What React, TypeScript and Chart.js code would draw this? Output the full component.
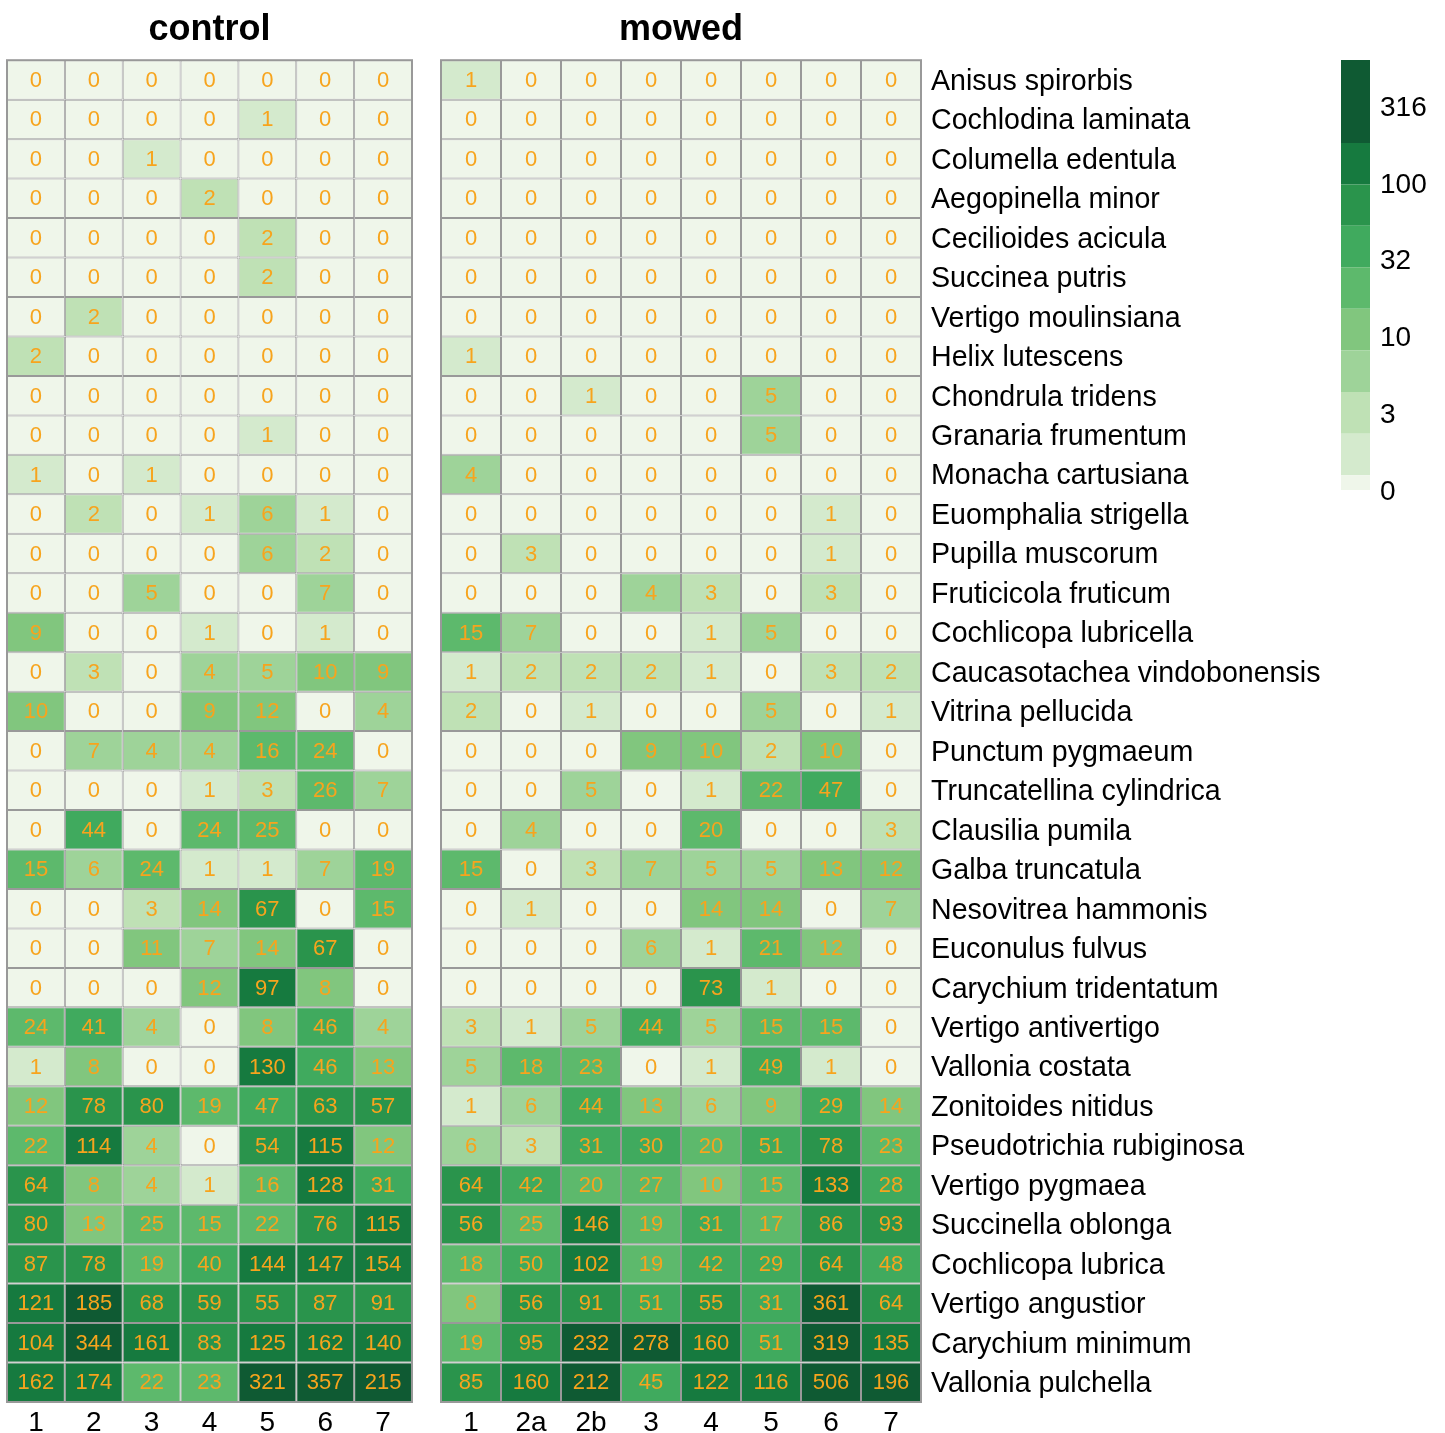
import React, { useEffect, useRef } from 'react';
import { Chart, registerables } from 'chart.js';

Chart.register(...registerables);

const FONT = "'Liberation Sans', Arial, Helvetica, sans-serif";
const GRID = '#999999';
const NUMBER_COLOR = '#F7A41D';

// Species, top to bottom
const species = [
  'Anisus spirorbis',
  'Cochlodina laminata',
  'Columella edentula',
  'Aegopinella minor',
  'Cecilioides acicula',
  'Succinea putris',
  'Vertigo moulinsiana',
  'Helix lutescens',
  'Chondrula tridens',
  'Granaria frumentum',
  'Monacha cartusiana',
  'Euomphalia strigella',
  'Pupilla muscorum',
  'Fruticicola fruticum',
  'Cochlicopa lubricella',
  'Caucasotachea vindobonensis',
  'Vitrina pellucida',
  'Punctum pygmaeum',
  'Truncatellina cylindrica',
  'Clausilia pumila',
  'Galba truncatula',
  'Nesovitrea hammonis',
  'Euconulus fulvus',
  'Carychium tridentatum',
  'Vertigo antivertigo',
  'Vallonia costata',
  'Zonitoides nitidus',
  'Pseudotrichia rubiginosa',
  'Vertigo pygmaea',
  'Succinella oblonga',
  'Cochlicopa lubrica',
  'Vertigo angustior',
  'Carychium minimum',
  'Vallonia pulchella',
];

const controlSites = ['1', '2', '3', '4', '5', '6', '7'];
const mowedSites = ['1', '2a', '2b', '3', '4', '5', '6', '7'];

// Individuals per species (rows) and site (columns)
const controlCounts = [
  [0, 0, 0, 0, 0, 0, 0],
  [0, 0, 0, 0, 1, 0, 0],
  [0, 0, 1, 0, 0, 0, 0],
  [0, 0, 0, 2, 0, 0, 0],
  [0, 0, 0, 0, 2, 0, 0],
  [0, 0, 0, 0, 2, 0, 0],
  [0, 2, 0, 0, 0, 0, 0],
  [2, 0, 0, 0, 0, 0, 0],
  [0, 0, 0, 0, 0, 0, 0],
  [0, 0, 0, 0, 1, 0, 0],
  [1, 0, 1, 0, 0, 0, 0],
  [0, 2, 0, 1, 6, 1, 0],
  [0, 0, 0, 0, 6, 2, 0],
  [0, 0, 5, 0, 0, 7, 0],
  [9, 0, 0, 1, 0, 1, 0],
  [0, 3, 0, 4, 5, 10, 9],
  [10, 0, 0, 9, 12, 0, 4],
  [0, 7, 4, 4, 16, 24, 0],
  [0, 0, 0, 1, 3, 26, 7],
  [0, 44, 0, 24, 25, 0, 0],
  [15, 6, 24, 1, 1, 7, 19],
  [0, 0, 3, 14, 67, 0, 15],
  [0, 0, 11, 7, 14, 67, 0],
  [0, 0, 0, 12, 97, 8, 0],
  [24, 41, 4, 0, 8, 46, 4],
  [1, 8, 0, 0, 130, 46, 13],
  [12, 78, 80, 19, 47, 63, 57],
  [22, 114, 4, 0, 54, 115, 12],
  [64, 8, 4, 1, 16, 128, 31],
  [80, 13, 25, 15, 22, 76, 115],
  [87, 78, 19, 40, 144, 147, 154],
  [121, 185, 68, 59, 55, 87, 91],
  [104, 344, 161, 83, 125, 162, 140],
  [162, 174, 22, 23, 321, 357, 215],
];

const mowedCounts = [
  [1, 0, 0, 0, 0, 0, 0, 0],
  [0, 0, 0, 0, 0, 0, 0, 0],
  [0, 0, 0, 0, 0, 0, 0, 0],
  [0, 0, 0, 0, 0, 0, 0, 0],
  [0, 0, 0, 0, 0, 0, 0, 0],
  [0, 0, 0, 0, 0, 0, 0, 0],
  [0, 0, 0, 0, 0, 0, 0, 0],
  [1, 0, 0, 0, 0, 0, 0, 0],
  [0, 0, 1, 0, 0, 5, 0, 0],
  [0, 0, 0, 0, 0, 5, 0, 0],
  [4, 0, 0, 0, 0, 0, 0, 0],
  [0, 0, 0, 0, 0, 0, 1, 0],
  [0, 3, 0, 0, 0, 0, 1, 0],
  [0, 0, 0, 4, 3, 0, 3, 0],
  [15, 7, 0, 0, 1, 5, 0, 0],
  [1, 2, 2, 2, 1, 0, 3, 2],
  [2, 0, 1, 0, 0, 5, 0, 1],
  [0, 0, 0, 9, 10, 2, 10, 0],
  [0, 0, 5, 0, 1, 22, 47, 0],
  [0, 4, 0, 0, 20, 0, 0, 3],
  [15, 0, 3, 7, 5, 5, 13, 12],
  [0, 1, 0, 0, 14, 14, 0, 7],
  [0, 0, 0, 6, 1, 21, 12, 0],
  [0, 0, 0, 0, 73, 1, 0, 0],
  [3, 1, 5, 44, 5, 15, 15, 0],
  [5, 18, 23, 0, 1, 49, 1, 0],
  [1, 6, 44, 13, 6, 9, 29, 14],
  [6, 3, 31, 30, 20, 51, 78, 23],
  [64, 42, 20, 27, 10, 15, 133, 28],
  [56, 25, 146, 19, 31, 17, 86, 93],
  [18, 50, 102, 19, 42, 29, 64, 48],
  [8, 56, 91, 51, 55, 31, 361, 64],
  [19, 95, 232, 278, 160, 51, 319, 135],
  [85, 160, 212, 45, 122, 116, 506, 196],
];

// Colour classes on log10(count + 1)
const binEdges = [0, 0.097, 0.367, 0.638, 0.909, 1.18, 1.45, 1.72, 1.99, 2.26, 2.8];
const binColors = [
  '#eff6ea',
  '#d4eacd',
  '#bfe1b5',
  '#9ed399',
  '#81c67e',
  '#5db96c',
  '#40aa5e',
  '#2a944c',
  '#167a3f',
  '#0f5a33',
];
const legendTicks = [0, 0.5, 1, 1.5, 2, 2.5];

function shade(count: number): string {
  const t = Math.log10(count + 1);
  let k = 0;
  for (let i = 0; i < binColors.length; i++) {
    if (t >= binEdges[i]) k = i;
  }
  return binColors[k];
}

// Writes each count in the middle of its cell and frames the panel
const cellText = {
  id: 'cellText',
  afterDatasetsDraw(chart: any, _args: any, opts: any) {
    const ctx = chart.ctx;
    ctx.save();
    ctx.font = `${opts.size}px ${FONT}`;
    ctx.fillStyle = opts.color;
    ctx.textAlign = 'center';
    ctx.textBaseline = 'middle';
    chart.data.datasets.forEach((_ds: any, di: number) => {
      const meta = chart.getDatasetMeta(di);
      meta.data.forEach((el: any, ci: number) => {
        const p = el.getProps(['x', 'y', 'base'], true);
        ctx.fillText(String(opts.counts[di][ci]), p.x, (p.y + p.base) / 2 + 1);
      });
    });
    const a = chart.chartArea;
    ctx.strokeStyle = opts.frame;
    ctx.lineWidth = 2;
    ctx.strokeRect(a.left, a.top, a.right - a.left, a.bottom - a.top);
    ctx.restore();
  },
};

type PanelProps = {
  title: string;
  sites: string[];
  counts: number[][];
  left: number;
  width: number;
  padLeft: number;
  axisWidth: number;
  showNames: boolean;
};

function HeatPanel({ title, sites, counts, left, width, padLeft, axisWidth, showNames }: PanelProps) {
  const ref = useRef<HTMLCanvasElement | null>(null);
  useEffect(() => {
    if (!ref.current) return;
    const chart = new Chart(ref.current, {
      type: 'bar',
      data: {
        labels: sites,
        datasets: counts.map((row, i) => ({
          label: species[i],
          data: row.map(() => 1),
          backgroundColor: row.map(shade),
          borderColor: GRID,
          borderWidth: 1,
          borderSkipped: false,
          inflateAmount: 0,
          categoryPercentage: 1,
          barPercentage: 1,
        })),
      },
      options: {
        animation: false,
        responsive: false,
        events: [],
        layout: { padding: { left: padLeft, right: showNames ? 0 : 8, top: 0, bottom: 0 } },
        plugins: {
          legend: { display: false },
          tooltip: { enabled: false },
          title: {
            display: true,
            text: title,
            fullSize: false,
            color: '#000',
            font: { family: FONT, size: 36, weight: 'bold' },
            padding: { top: 8, bottom: 9 },
          },
          cellText: { counts, size: 22, color: NUMBER_COLOR, frame: GRID },
        } as any,
        scales: {
          x: {
            stacked: true,
            grid: { display: false, drawTicks: false },
            border: { display: false },
            ticks: { color: '#000', font: { family: FONT, size: 28 }, padding: 4 },
            afterFit: (s: any) => {
              s.height = 31;
            },
          },
          y: {
            stacked: true,
            reverse: true,
            min: 0,
            max: species.length,
            display: showNames,
            position: 'right',
            grid: { display: false, drawTicks: false },
            border: { display: false },
            ticks: {
              autoSkip: false,
              color: '#000',
              font: { family: FONT, size: 28.6 },
              padding: 10,
              labelOffset: 2,
              callback: (v: any) => species[Math.floor(Number(v))],
            },
            afterBuildTicks: (s: any) => {
              s.ticks = species.map((_, i) => ({ value: i + 0.5 }));
            },
            afterFit: (s: any) => {
              s.width = axisWidth;
            },
          },
        },
      } as any,
      plugins: [cellText as any],
    });
    return () => chart.destroy();
  }, []);
  return (
    <canvas
      ref={ref}
      width={width}
      height={1433}
      style={{ position: 'absolute', left, top: 0, width, height: 1433 }}
    />
  );
}

function ScaleLegend() {
  const ref = useRef<HTMLCanvasElement | null>(null);
  useEffect(() => {
    if (!ref.current) return;
    const chart = new Chart(ref.current, {
      type: 'bar',
      data: {
        labels: [''],
        datasets: binColors.map((c, k) => ({
          data: [[binEdges[k], binEdges[k + 1]]],
          backgroundColor: c,
          borderWidth: 0,
          inflateAmount: 0,
          categoryPercentage: 1,
          barPercentage: 1,
        })),
      },
      options: {
        animation: false,
        responsive: false,
        events: [],
        layout: { padding: { left: 11, right: 0, top: 60, bottom: 30 } },
        plugins: { legend: { display: false }, tooltip: { enabled: false } },
        scales: {
          x: { display: false, stacked: true },
          y: {
            stacked: false,
            position: 'right',
            min: 0,
            max: binEdges[binEdges.length - 1],
            grid: { display: false, drawTicks: false },
            border: { display: false },
            ticks: {
              color: '#000',
              font: { family: FONT, size: 28 },
              padding: 10,
              labelOffset: 2,
              callback: (v: any) => (Number(v) === 0 ? '0' : String(Math.round(Math.pow(10, Number(v))))),
            },
            afterBuildTicks: (s: any) => {
              s.ticks = legendTicks.map((v) => ({ value: v }));
            },
            afterFit: (s: any) => {
              s.width = 75;
            },
          },
        },
      } as any,
    });
    return () => chart.destroy();
  }, []);
  return (
    <canvas
      ref={ref}
      width={115}
      height={520}
      style={{ position: 'absolute', left: 1330, top: 0, width: 115, height: 520 }}
    />
  );
}

export default function App() {
  return (
    <div style={{ position: 'absolute', left: 0, top: 0, width: 1445, height: 1433, background: '#ffffff' }}>
      <HeatPanel
        title="control"
        sites={controlSites}
        counts={controlCounts}
        left={0}
        width={420}
        padLeft={7}
        axisWidth={0}
        showNames={false}
      />
      <HeatPanel
        title="mowed"
        sites={mowedSites}
        counts={mowedCounts}
        left={430}
        width={900}
        padLeft={11}
        axisWidth={409}
        showNames={true}
      />
      <ScaleLegend />
    </div>
  );
}
